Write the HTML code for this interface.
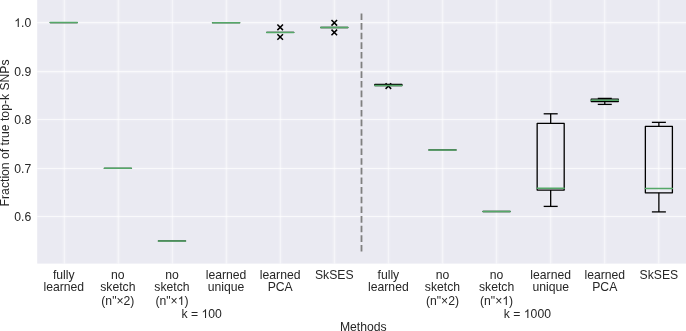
<!DOCTYPE html><html><head><meta charset="utf-8"><style>html,body{margin:0;padding:0;background:#fff;}svg{display:block;} .h{fill:transparent;} text{font-family:"Liberation Sans",sans-serif;font-size:12.2px;fill:#262626;}</style></head><body>
<svg width="686" height="331" viewBox="0 0 686 331">
<rect x="0" y="0" width="686" height="331" fill="#ffffff"/>
<rect x="37.20" y="0.00" width="648.80" height="263.60" fill="#EAEAF2"/>
<defs><filter id="gbx" x="-5%" y="-5%" width="110%" height="110%"><feGaussianBlur stdDeviation="1.0 0"/></filter><filter id="gby" x="-5%" y="-5%" width="110%" height="110%"><feGaussianBlur stdDeviation="0 1.0"/></filter></defs>
<g filter="url(#gbx)" opacity="0.6">
<line x1="64.40" y1="0.00" x2="64.40" y2="263.60" stroke="#fff" stroke-width="1.2"/>
<line x1="118.42" y1="0.00" x2="118.42" y2="263.60" stroke="#fff" stroke-width="1.2"/>
<line x1="172.44" y1="0.00" x2="172.44" y2="263.60" stroke="#fff" stroke-width="1.2"/>
<line x1="226.46" y1="0.00" x2="226.46" y2="263.60" stroke="#fff" stroke-width="1.2"/>
<line x1="280.48" y1="0.00" x2="280.48" y2="263.60" stroke="#fff" stroke-width="1.2"/>
<line x1="334.50" y1="0.00" x2="334.50" y2="263.60" stroke="#fff" stroke-width="1.2"/>
<line x1="388.52" y1="0.00" x2="388.52" y2="263.60" stroke="#fff" stroke-width="1.2"/>
<line x1="442.54" y1="0.00" x2="442.54" y2="263.60" stroke="#fff" stroke-width="1.2"/>
<line x1="496.56" y1="0.00" x2="496.56" y2="263.60" stroke="#fff" stroke-width="1.2"/>
<line x1="550.58" y1="0.00" x2="550.58" y2="263.60" stroke="#fff" stroke-width="1.2"/>
<line x1="604.60" y1="0.00" x2="604.60" y2="263.60" stroke="#fff" stroke-width="1.2"/>
<line x1="658.62" y1="0.00" x2="658.62" y2="263.60" stroke="#fff" stroke-width="1.2"/>
</g><g opacity="0.4">
<line x1="64.40" y1="0.00" x2="64.40" y2="263.60" stroke="#fff" stroke-width="1.2"/>
<line x1="118.42" y1="0.00" x2="118.42" y2="263.60" stroke="#fff" stroke-width="1.2"/>
<line x1="172.44" y1="0.00" x2="172.44" y2="263.60" stroke="#fff" stroke-width="1.2"/>
<line x1="226.46" y1="0.00" x2="226.46" y2="263.60" stroke="#fff" stroke-width="1.2"/>
<line x1="280.48" y1="0.00" x2="280.48" y2="263.60" stroke="#fff" stroke-width="1.2"/>
<line x1="334.50" y1="0.00" x2="334.50" y2="263.60" stroke="#fff" stroke-width="1.2"/>
<line x1="388.52" y1="0.00" x2="388.52" y2="263.60" stroke="#fff" stroke-width="1.2"/>
<line x1="442.54" y1="0.00" x2="442.54" y2="263.60" stroke="#fff" stroke-width="1.2"/>
<line x1="496.56" y1="0.00" x2="496.56" y2="263.60" stroke="#fff" stroke-width="1.2"/>
<line x1="550.58" y1="0.00" x2="550.58" y2="263.60" stroke="#fff" stroke-width="1.2"/>
<line x1="604.60" y1="0.00" x2="604.60" y2="263.60" stroke="#fff" stroke-width="1.2"/>
<line x1="658.62" y1="0.00" x2="658.62" y2="263.60" stroke="#fff" stroke-width="1.2"/>
</g>
<g filter="url(#gby)" opacity="0.4">
<line x1="37.20" y1="22.60" x2="686.00" y2="22.60" stroke="#fff" stroke-width="1.2"/>
<line x1="37.20" y1="71.60" x2="686.00" y2="71.60" stroke="#fff" stroke-width="1.2"/>
<line x1="37.20" y1="119.50" x2="686.00" y2="119.50" stroke="#fff" stroke-width="1.2"/>
<line x1="37.20" y1="168.50" x2="686.00" y2="168.50" stroke="#fff" stroke-width="1.2"/>
<line x1="37.20" y1="216.50" x2="686.00" y2="216.50" stroke="#fff" stroke-width="1.2"/>
</g><g opacity="0.7">
<line x1="37.20" y1="22.60" x2="686.00" y2="22.60" stroke="#fff" stroke-width="1.2"/>
<line x1="37.20" y1="71.60" x2="686.00" y2="71.60" stroke="#fff" stroke-width="1.2"/>
<line x1="37.20" y1="119.50" x2="686.00" y2="119.50" stroke="#fff" stroke-width="1.2"/>
<line x1="37.20" y1="168.50" x2="686.00" y2="168.50" stroke="#fff" stroke-width="1.2"/>
<line x1="37.20" y1="216.50" x2="686.00" y2="216.50" stroke="#fff" stroke-width="1.2"/>
</g>
<rect x="50.26" y="22.60" width="27.04" height="0.01" fill="none" stroke="#000" stroke-linejoin="round" stroke-width="1.3"/>
<line x1="50.26" y1="22.60" x2="77.30" y2="22.60" stroke="#55A868" stroke-linecap="round" stroke-width="1.5"/>
<rect x="104.36" y="168.35" width="27.04" height="0.01" fill="none" stroke="#000" stroke-linejoin="round" stroke-width="1.3"/>
<line x1="104.36" y1="168.35" x2="131.40" y2="168.35" stroke="#55A868" stroke-linecap="round" stroke-width="1.5"/>
<rect x="158.46" y="240.90" width="27.04" height="0.01" fill="none" stroke="#000" stroke-linejoin="round" stroke-width="1.3"/>
<line x1="158.46" y1="240.90" x2="185.50" y2="240.90" stroke="#55A868" stroke-linecap="round" stroke-width="1.5"/>
<rect x="212.56" y="22.70" width="27.04" height="0.01" fill="none" stroke="#000" stroke-linejoin="round" stroke-width="1.3"/>
<line x1="212.56" y1="22.70" x2="239.60" y2="22.70" stroke="#55A868" stroke-linecap="round" stroke-width="1.5"/>
<rect x="266.66" y="32.40" width="27.04" height="0.01" fill="none" stroke="#000" stroke-linejoin="round" stroke-width="1.3"/>
<path d="M277.38 24.50L282.98 30.10M282.98 24.50L277.38 30.10" stroke="#000" stroke-width="1.5" fill="none"/>
<path d="M277.38 34.20L282.98 39.80M282.98 34.20L277.38 39.80" stroke="#000" stroke-width="1.5" fill="none"/>
<line x1="266.66" y1="32.40" x2="293.70" y2="32.40" stroke="#55A868" stroke-linecap="round" stroke-width="1.5"/>
<rect x="320.76" y="27.50" width="27.04" height="0.01" fill="none" stroke="#000" stroke-linejoin="round" stroke-width="1.3"/>
<path d="M331.48 20.00L337.08 25.60M337.08 20.00L331.48 25.60" stroke="#000" stroke-width="1.5" fill="none"/>
<path d="M331.48 29.60L337.08 35.20M337.08 29.60L331.48 35.20" stroke="#000" stroke-width="1.5" fill="none"/>
<line x1="320.76" y1="27.50" x2="347.80" y2="27.50" stroke="#55A868" stroke-linecap="round" stroke-width="1.5"/>
<rect x="374.86" y="84.40" width="27.04" height="1.20" fill="none" stroke="#000" stroke-linejoin="round" stroke-width="1.3"/>
<path d="M385.58 83.30L391.18 88.90M391.18 83.30L385.58 88.90" stroke="#000" stroke-width="1.5" fill="none"/>
<line x1="374.86" y1="85.60" x2="401.90" y2="85.60" stroke="#55A868" stroke-linecap="round" stroke-width="1.5"/>
<rect x="428.96" y="149.90" width="27.04" height="0.01" fill="none" stroke="#000" stroke-linejoin="round" stroke-width="1.3"/>
<line x1="428.96" y1="149.90" x2="456.00" y2="149.90" stroke="#55A868" stroke-linecap="round" stroke-width="1.5"/>
<rect x="483.06" y="211.50" width="27.04" height="0.01" fill="none" stroke="#000" stroke-linejoin="round" stroke-width="1.3"/>
<line x1="483.06" y1="211.50" x2="510.10" y2="211.50" stroke="#55A868" stroke-linecap="round" stroke-width="1.5"/>
<line x1="550.68" y1="123.40" x2="550.68" y2="113.80" stroke="#000" stroke-width="1.3"/>
<line x1="543.68" y1="113.80" x2="557.68" y2="113.80" stroke="#000" stroke-width="1.3"/>
<line x1="550.68" y1="190.10" x2="550.68" y2="206.40" stroke="#000" stroke-width="1.3"/>
<line x1="543.68" y1="206.40" x2="557.68" y2="206.40" stroke="#000" stroke-width="1.3"/>
<rect x="537.16" y="123.40" width="27.04" height="66.70" fill="none" stroke="#000" stroke-linejoin="round" stroke-width="1.3"/>
<line x1="537.16" y1="188.20" x2="564.20" y2="188.20" stroke="#55A868" stroke-linecap="round" stroke-width="1.5"/>
<line x1="604.78" y1="99.10" x2="604.78" y2="98.40" stroke="#000" stroke-width="1.3"/>
<line x1="597.78" y1="98.40" x2="611.78" y2="98.40" stroke="#000" stroke-width="1.3"/>
<line x1="604.78" y1="101.50" x2="604.78" y2="104.40" stroke="#000" stroke-width="1.3"/>
<line x1="597.78" y1="104.40" x2="611.78" y2="104.40" stroke="#000" stroke-width="1.3"/>
<rect x="591.26" y="99.10" width="27.04" height="2.40" fill="none" stroke="#000" stroke-linejoin="round" stroke-width="1.3"/>
<line x1="591.26" y1="100.30" x2="618.30" y2="100.30" stroke="#55A868" stroke-linecap="round" stroke-width="1.5"/>
<line x1="658.88" y1="126.40" x2="658.88" y2="122.35" stroke="#000" stroke-width="1.3"/>
<line x1="651.88" y1="122.35" x2="665.88" y2="122.35" stroke="#000" stroke-width="1.3"/>
<line x1="658.88" y1="192.80" x2="658.88" y2="211.90" stroke="#000" stroke-width="1.3"/>
<line x1="651.88" y1="211.90" x2="665.88" y2="211.90" stroke="#000" stroke-width="1.3"/>
<rect x="645.36" y="126.40" width="27.04" height="66.40" fill="none" stroke="#000" stroke-linejoin="round" stroke-width="1.3"/>
<line x1="645.36" y1="188.40" x2="672.40" y2="188.40" stroke="#55A868" stroke-linecap="round" stroke-width="1.5"/>
<line x1="361.5" y1="251.6" x2="361.5" y2="12.7" stroke="#808080" stroke-width="1.8" stroke-dasharray="6.6 3.05"/>
<g style="will-change:transform">
<text x="31.20" y="27.20" text-anchor="end"><tspan class="h">1</tspan>.0</text>
<text x="31.20" y="75.65" text-anchor="end">0.9</text>
<text x="31.20" y="124.10" text-anchor="end">0.8</text>
<text x="31.20" y="172.55" text-anchor="end">0.7</text>
<text x="31.20" y="221.00" text-anchor="end">0.6</text>
<text x="63.78" y="278.50" text-anchor="middle">fully</text>
<text x="63.78" y="291.10" text-anchor="middle">learned</text>
<text x="117.88" y="278.50" text-anchor="middle">no</text>
<text x="117.88" y="291.10" text-anchor="middle">sketch</text>
<text x="117.88" y="304.50" text-anchor="middle">(n&quot;×2)</text>
<text x="171.98" y="278.50" text-anchor="middle">no</text>
<text x="171.98" y="291.10" text-anchor="middle">sketch</text>
<text x="171.98" y="304.50" text-anchor="middle">(n&quot;×<tspan class="h">1</tspan>)</text>
<text x="226.08" y="278.50" text-anchor="middle">learned</text>
<text x="226.08" y="291.10" text-anchor="middle">unique</text>
<text x="280.18" y="278.50" text-anchor="middle">learned</text>
<text x="280.18" y="291.10" text-anchor="middle">PCA</text>
<text x="334.28" y="278.50" text-anchor="middle">SkSES</text>
<text x="388.38" y="278.50" text-anchor="middle">fully</text>
<text x="388.38" y="291.10" text-anchor="middle">learned</text>
<text x="442.48" y="278.50" text-anchor="middle">no</text>
<text x="442.48" y="291.10" text-anchor="middle">sketch</text>
<text x="442.48" y="304.50" text-anchor="middle">(n&quot;×2)</text>
<text x="496.58" y="278.50" text-anchor="middle">no</text>
<text x="496.58" y="291.10" text-anchor="middle">sketch</text>
<text x="496.58" y="304.50" text-anchor="middle">(n&quot;×<tspan class="h">1</tspan>)</text>
<text x="550.68" y="278.50" text-anchor="middle">learned</text>
<text x="550.68" y="291.10" text-anchor="middle">unique</text>
<text x="604.78" y="278.50" text-anchor="middle">learned</text>
<text x="604.78" y="291.10" text-anchor="middle">PCA</text>
<text x="658.88" y="278.50" text-anchor="middle">SkSES</text>
<text x="201.70" y="318.40" text-anchor="middle">k = <tspan class="h">1</tspan>00</text>
<text x="527.40" y="318.40" text-anchor="middle">k = <tspan class="h">1</tspan>000</text>
<text x="363.3" y="330.9" text-anchor="middle">Methods</text>
<text x="0" y="0" text-anchor="middle" transform="translate(9.0 132.9) rotate(-90)">Fraction of true top-k SNPs</text>
<path d="M583 0L583 1147Q518 1085 412 1023Q312 963 222 930L222 1104Q373 1175 486 1275Q586 1365 639 1466L763 1466L763 0Z" fill="#262626" transform="translate(14.247 27.000) scale(0.005957 -0.005957)"/>
<path d="M583 0L583 1147Q518 1085 412 1023Q312 963 222 930L222 1104Q373 1175 486 1275Q586 1365 639 1466L763 1466L763 0Z" fill="#262626" transform="translate(177.699 305.000) scale(0.005957 -0.005957)"/>
<path d="M583 0L583 1147Q518 1085 412 1023Q312 963 222 930L222 1104Q373 1175 486 1275Q586 1365 639 1466L763 1466L763 0Z" fill="#262626" transform="translate(502.299 305.000) scale(0.005957 -0.005957)"/>
<path d="M583 0L583 1147Q518 1085 412 1023Q312 963 222 930L222 1104Q373 1175 486 1275Q586 1365 639 1466L763 1466L763 0Z" fill="#262626" transform="translate(201.520 318.000) scale(0.005957 -0.005957)"/>
<path d="M583 0L583 1147Q518 1085 412 1023Q312 963 222 930L222 1104Q373 1175 486 1275Q586 1365 639 1466L763 1466L763 0Z" fill="#262626" transform="translate(523.830 318.000) scale(0.005957 -0.005957)"/>
</g>
</svg></body></html>
